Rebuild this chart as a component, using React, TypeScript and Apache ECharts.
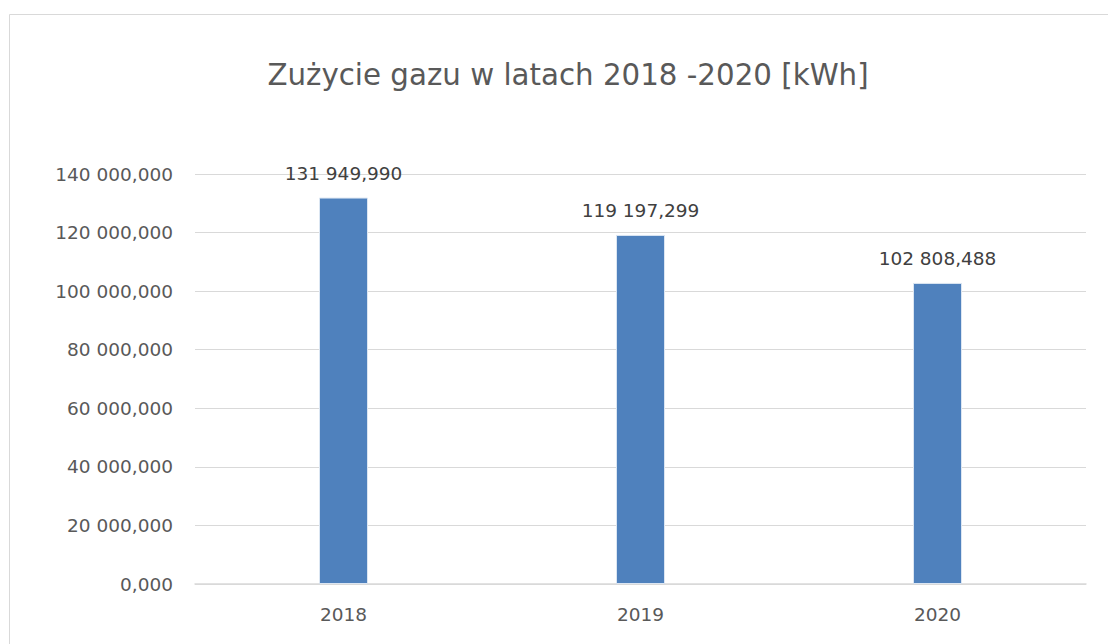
import React, { useEffect, useRef } from "react";
import * as echarts from "echarts";

const categories = ["2018", "2019", "2020"];
const values = [131949.99, 119197.299, 102808.488];
const titleText = "Zużycie gazu w latach 2018 -2020 [kWh]";
const yMax = 140000;
const yInterval = 20000;

const fmt = (v: number) => {
  const parts = v.toFixed(3).split(".");
  const intPart = parts[0].replace(/\B(?=(\d{3})+(?!\d))/g, " ");
  return intPart + "," + parts[1];
};

export default function App() {
  const ref = useRef<HTMLDivElement>(null);
  useEffect(() => {
    if (!ref.current) return;
    const chart = echarts.init(ref.current, null, { renderer: "svg" });
    const font = "'DejaVu Sans', sans-serif";
    chart.setOption({
      animation: false,
      backgroundColor: "#ffffff",
      title: {
        text: titleText,
        left: 563,
        top: 55,
        textAlign: "center",
        textStyle: { fontFamily: font, fontSize: 29.3, fontWeight: "normal", color: "#595959" },
      },
      graphic: [
        {
          type: "rect",
          shape: { x: 9.5, y: 14.5, width: 1200, height: 700 },
          style: { fill: "none", stroke: "#d9d9d9", lineWidth: 1 },
          silent: true,
        },
      ],
      grid: { left: 195, right: 22, top: 174, bottom: 60, containLabel: false },
      xAxis: {
        type: "category",
        data: categories,
        axisLine: { show: true, lineStyle: { color: "#d9d9d9", width: 1.5 } },
        axisTick: { show: false },
        axisLabel: { color: "#595959", fontFamily: font, fontSize: 18.5, margin: 21 },
      },
      yAxis: {
        type: "value",
        min: 0,
        max: yMax,
        interval: yInterval,
        axisLine: { show: false },
        axisTick: { show: false },
        splitLine: { lineStyle: { color: "#d9d9d9", width: 1 } },
        axisLabel: {
          color: "#595959",
          fontFamily: font,
          fontSize: 18.5,
          margin: 22,
          formatter: (v: number) => fmt(v),
        },
      },
      series: [
        {
          type: "bar",
          data: values,
          barWidth: "16.5%",
          itemStyle: { color: "#4f81bd", borderColor: "#dce6f2", borderWidth: 1 },
          label: {
            show: true,
            position: "top",
            distance: 15,
            color: "#404040",
            fontFamily: font,
            fontSize: 18.5,
            formatter: (p: any) => fmt(p.value),
          },
        },
      ],
    });
    return () => chart.dispose();
  }, []);
  return (
    <div
      ref={ref}
      style={{ position: "fixed", left: 0, top: 0, width: 1108, height: 644 }}
    />
  );
}
